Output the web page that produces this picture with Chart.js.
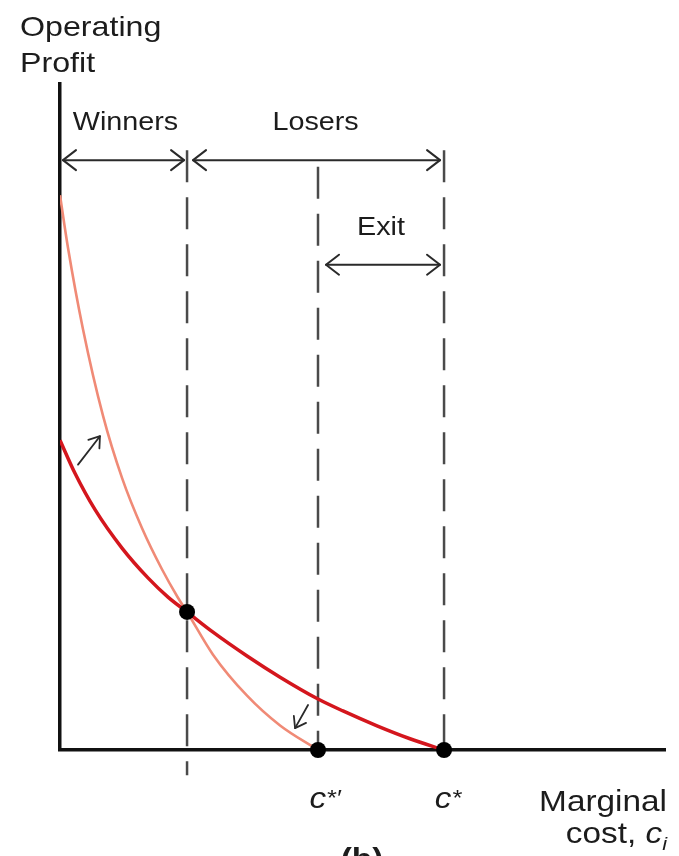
<!DOCTYPE html>
<html>
<head>
<meta charset="utf-8">
<script src="https://cdn.jsdelivr.net/npm/chart.js@4/dist/chart.umd.min.js"></script>
<style>
html,body{margin:0;padding:0;background:#fff;}
#wrap{width:679px;height:856px;position:relative;}
canvas{display:block;}
</style>
</head>
<body>
<div id="wrap"><canvas id="c" width="679" height="856"></canvas></div>
<script>
// ---- data ----
// original (dark red) operating-profit curve
const costOld   = [0, 0.119, 0.278, 0.492, 0.698, 0.857, 1.008, 1.214, 1.484, 1.746, 2.047, 2.245, 2.515, 2.777, 3.047];
const profitOld = [4.68, 4.18, 3.63, 3.05, 2.60, 2.31, 2.085, 1.78, 1.42, 1.10, 0.77, 0.59, 0.365, 0.17, 0];
// new (light) operating-profit curve after the shock
const costNew   = [0, 0.063, 0.182, 0.341, 0.492, 0.651, 0.809, 0.936, 1.008, 1.214, 1.484, 1.746, 2.047];
const profitNew = [8.38, 7.59, 6.36, 5.05, 4.11, 3.35, 2.73, 2.30, 2.085, 1.44, 0.82, 0.37, 0];
// cutoffs: winners/losers boundary, c*' (new cutoff), c* (old cutoff)
const cutoffs = [1.008, 2.047, 3.047];
// marked points (black dots)
const markX = [1.008, 2.047, 3.047];
const markY = [2.085, 0, 0];
// labels
const tickLabels   = ["c*′", "c*"];
const regionLabels = ["Winners", "Losers", "Exit"];
const yTitle       = ["Operating", "Profit"];
const xTitle       = ["Marginal", "cost, ", "c", "i"];
const panelLabel   = "(b)";

// ---- chart ----
const SX = 1.15;          // horizontal stretch of the reference lettering
const INK = '#1c1c1c';
const FONT = '"Liberation Sans", Arial, Helvetica, sans-serif';

function drawText(ctx, s, x, y, font, align) {
  ctx.save();
  ctx.font = font;
  ctx.textBaseline = 'alphabetic';
  ctx.textAlign = 'left';
  const w = ctx.measureText(s).width * SX;
  const left = align === 'center' ? x - w / 2 : (align === 'right' ? x - w : x);
  ctx.translate(left, y);
  ctx.scale(SX, 1);
  ctx.fillStyle = INK;
  ctx.fillText(s, 0, 0);
  ctx.restore();
  return w;
}
function textWidth(ctx, s, font) {
  ctx.save(); ctx.font = font; const w = ctx.measureText(s).width * SX; ctx.restore(); return w;
}
// italic symbol with raised (superscript) remainder, centred at x
function drawSym(ctx, s, x, y) {
  const fMain = 'italic 29px ' + FONT, fSup = 'italic 22px ' + FONT;
  const base = s.charAt(0), sup = s.slice(1);
  const w1 = textWidth(ctx, base, fMain), w2 = textWidth(ctx, sup, fSup);
  const left = x - (w1 + w2) / 2;
  drawText(ctx, base, left, y, fMain, 'left');
  drawText(ctx, sup, left + w1, y - 3, fSup, 'left');
}
function head(ctx, tx, ty, ang, len, half) {
  const bx = tx - Math.cos(ang) * len, by = ty - Math.sin(ang) * len;
  const nx = -Math.sin(ang) * half, ny = Math.cos(ang) * half;
  ctx.beginPath();
  ctx.moveTo(bx + nx, by + ny);
  ctx.lineTo(tx, ty);
  ctx.lineTo(bx - nx, by - ny);
  ctx.stroke();
}
function dblArrow(ctx, x1, x2, y) {
  ctx.beginPath(); ctx.moveTo(x1, y); ctx.lineTo(x2, y); ctx.stroke();
  head(ctx, x1, y, Math.PI, 13, 10);
  head(ctx, x2, y, 0, 13, 10);
}
function arrow(ctx, x1, y1, x2, y2) {
  ctx.beginPath(); ctx.moveTo(x1, y1); ctx.lineTo(x2, y2); ctx.stroke();
  head(ctx, x2, y2, Math.atan2(y2 - y1, x2 - x1), 10, 7);
}

const annotations = {
  id: 'annotations',
  afterDatasetsDraw(chart) {
    const ctx = chart.ctx;
    const xs = chart.scales.x, ys = chart.scales.y;
    const px = v => xs.getPixelForValue(v);
    const py = v => ys.getPixelForValue(v);
    ctx.save();
    ctx.strokeStyle = '#2a2a2a';
    ctx.lineWidth = 2;
    ctx.lineCap = 'round';
    ctx.lineJoin = 'round';

    // region arrows
    const yTop = py(8.91), yExit = py(7.33);
    dblArrow(ctx, px(0) + 3, px(cutoffs[0]) - 3, yTop);
    dblArrow(ctx, px(cutoffs[0]) + 6, px(cutoffs[2]) - 4, yTop);
    dblArrow(ctx, px(cutoffs[1]) + 8, px(cutoffs[2]) - 4, yExit);

    // shift arrows on the curves
    ctx.lineWidth = 1.8;
    arrow(ctx, px(0.143), py(4.31), px(0.317), py(4.74));
    arrow(ctx, px(1.968), py(0.68), px(1.865), py(0.33));

    // region labels
    const f25 = '25px ' + FONT;
    drawText(ctx, regionLabels[0], (px(0) + px(cutoffs[0])) / 2 + 2, py(9.36), f25, 'center');
    drawText(ctx, regionLabels[1], (px(cutoffs[0]) + px(cutoffs[2])) / 2, py(9.36), f25, 'center');
    drawText(ctx, regionLabels[2], (px(cutoffs[1]) + px(cutoffs[2])) / 2, py(7.78), f25, 'center');

    // y-axis title
    const f28 = '28px ' + FONT;
    drawText(ctx, yTitle[0], 20, 36, f28, 'left');
    drawText(ctx, yTitle[1], 20, 72, f28, 'left');

    // tick labels under the axis
    drawSym(ctx, tickLabels[0], px(cutoffs[1]) + 7, 808);
    drawSym(ctx, tickLabels[1], px(cutoffs[2]) + 4, 808);

    // x-axis title
    const fi = 'italic 29px ' + FONT;
    const f29 = '29px ' + FONT;
    drawText(ctx, xTitle[0], 667, 811, f29, 'right');
    const fsub = 'italic 19px ' + FONT;
    const wSub = textWidth(ctx, xTitle[3], fsub);
    const wC = textWidth(ctx, xTitle[2], fi);
    const wCost = textWidth(ctx, xTitle[1], f29);
    let x0 = 667 - wSub - wC - wCost;
    drawText(ctx, xTitle[1], x0, 843, f29, 'left');
    drawText(ctx, xTitle[2], x0 + wCost, 843, fi, 'left');
    drawText(ctx, xTitle[3], x0 + wCost + wC, 850, fsub, 'left');

    // panel label
    drawText(ctx, panelLabel, 362, 869, 'bold 29px ' + FONT, 'center');
    ctx.restore();
  }
};

const guideTop = [9.06, 8.81, 9.06];
const guideBottom = [-0.38, 0, 0];
const guides = cutoffs.map((c, i) => ({
  type: 'line',
  data: [{x: c, y: guideTop[i]}, {x: c, y: guideBottom[i]}],
  borderColor: '#4a4a4a',
  borderWidth: 2.5,
  borderDash: [32, 15],
  pointRadius: 0,
  clip: false,
  order: 5
}));

new Chart(document.getElementById('c'), {
  type: 'scatter',
  data: {
    datasets: [
      {
        type: 'scatter',
        data: markX.map((x, i) => ({x, y: markY[i]})),
        pointRadius: 8,
        pointBackgroundColor: '#000',
        pointBorderColor: '#000',
        pointBorderWidth: 0,
        showLine: false,
        clip: false,
        order: 0
      },
      {
        type: 'line',
        data: costOld.map((x, i) => ({x, y: profitOld[i]})),
        borderColor: '#d4161d',
        borderWidth: 3.5,
        pointRadius: 0,
        cubicInterpolationMode: 'monotone',
        order: 1
      },
      {
        type: 'line',
        data: costNew.map((x, i) => ({x, y: profitNew[i]})),
        borderColor: '#f08a76',
        borderWidth: 2.6,
        pointRadius: 0,
        cubicInterpolationMode: 'monotone',
        order: 2
      },
      ...guides
    ]
  },
  options: {
    responsive: false,
    animation: false,
    devicePixelRatio: 1,
    layout: { padding: { left: 60, right: 14, top: 84, bottom: 106 } },
    plugins: { legend: { display: false }, tooltip: { enabled: false } },
    scales: {
      x: {
        type: 'linear', min: 0, max: 4.8,
        grid: { display: false, drawTicks: false },
        ticks: { display: false },
        border: { display: true, color: '#111', width: 3.5 }
      },
      y: {
        type: 'linear', min: 0, max: 10.06,
        grid: { display: false, drawTicks: false },
        ticks: { display: false },
        border: { display: true, color: '#111', width: 3.5 }
      }
    }
  },
  plugins: [annotations]
});
</script>
</body>
</html>
